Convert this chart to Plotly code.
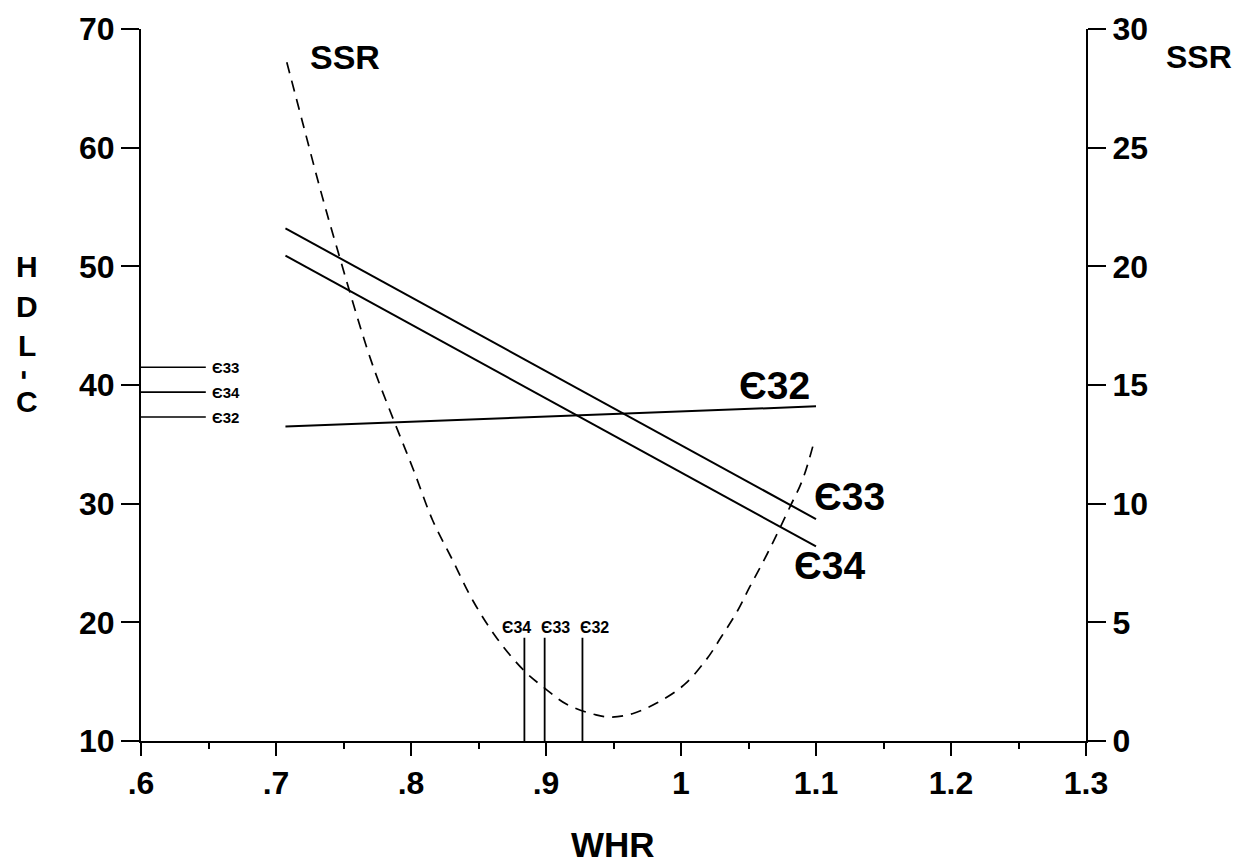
import plotly.graph_objects as go

# ---- data ----
# SSR curve (right axis) : WHR vs SSR
ssr_x = [0.708, 0.720, 0.733, 0.745, 0.770, 0.788, 0.802, 0.816, 0.831, 0.846,
         0.864, 0.884, 0.899, 0.915, 0.937, 0.949, 0.964, 0.982, 1.002, 1.019,
         1.030, 1.042, 1.051, 1.064, 1.081, 1.090, 1.099]
ssr_y = [28.6, 26.0, 23.2, 20.8, 16.1, 13.4, 11.4, 9.3, 7.6, 5.9,
         4.3, 2.95, 2.23, 1.56, 1.10, 1.01, 1.15, 1.6, 2.35, 3.45,
         4.4, 5.5, 6.5, 7.9, 9.9, 11.0, 12.7]

# regression lines (left axis): HDL-C vs WHR
line_x = [0.707, 1.10]
e33_y = [53.2, 28.7]
e34_y = [50.9, 26.4]
e32_y = [36.5, 38.2]

# mean HDL-C markers at left
mean_x = [0.600, 0.648]
mean_e33 = 41.5
mean_e34 = 39.4
mean_e32 = 37.3

# optimal WHR markers at bottom
opt_labels = ["Є34", "Є33", "Є32"]
opt_whr = [0.884, 0.899, 0.927]
opt_top = 18.7

x_ticks = [0.6, 0.7, 0.8, 0.9, 1.0, 1.1, 1.2, 1.3]
x_ticktext = [".6", ".7", ".8", ".9", "1", "1.1", "1.2", "1.3"]
y_ticks = [10, 20, 30, 40, 50, 60, 70]
y2_ticks = [0, 5, 10, 15, 20, 25, 30]

FONT = "Liberation Sans, Arial, sans-serif"
BLK = "black"

# page body has an 8px margin; plot area wanted at page px x 141..1086, y 29..741
OFF = 8
PL, PR, PT, PB = 141 - OFF, 1086 - OFF, 29 - OFF, 741 - OFF
W, H = 1244, 863

fig = go.Figure()

# SSR dashed curve
fig.add_trace(go.Scatter(x=ssr_x, y=ssr_y, mode="lines", yaxis="y2",
                         line=dict(color=BLK, width=1.7, dash="11px,8px", shape="spline"),
                         showlegend=False, hoverinfo="skip"))

for yy in (e33_y, e34_y, e32_y):
    fig.add_trace(go.Scatter(x=line_x, y=yy, mode="lines",
                             line=dict(color=BLK, width=2), showlegend=False))

for m in (mean_e33, mean_e34, mean_e32):
    fig.add_trace(go.Scatter(x=mean_x, y=[m, m], mode="lines",
                             line=dict(color=BLK, width=1.6), showlegend=False))

for w in opt_whr:
    fig.add_trace(go.Scatter(x=[w, w], y=[10, opt_top], mode="lines",
                             line=dict(color=BLK, width=1.8), showlegend=False))


def f(size, bold=True):
    d = dict(size=size, color=BLK, family=FONT)
    if bold:
        d["weight"] = "bold"
    return d


def A(**kw):
    kw.setdefault("showarrow", False)
    kw.setdefault("xanchor", "center")
    kw.setdefault("yanchor", "middle")
    return kw


ann = []
# big line labels
ann.append(A(x=1.0696, y=40.0, text="Є32", font=f(39)))
ann.append(A(x=1.125, y=30.6, text="Є33", font=f(39)))
ann.append(A(x=1.110, y=24.8, text="Є34", font=f(39)))
# small left labels
for t, yy in (("Є33", mean_e33), ("Є34", mean_e34), ("Є32", mean_e32)):
    ann.append(A(x=mean_x[1] + 0.003, y=yy, text=t, xanchor="left", font=f(15)))
# bottom labels
for t, w in zip(opt_labels, [0.8785, 0.9067, 0.9356]):
    ann.append(A(x=w, y=19.6, text=t, font=f(16)))
# SSR labels
ann.append(A(x=0.751, y=67.6, text="SSR", font=f(34)))
ann.append(A(x=(1199 - 141) / 945, y=67.6, xref="paper", text="SSR", font=f(32)))
# WHR title
ann.append(A(x=(613 - 141) / 945, y=(741 - 845) / 712, xref="paper", yref="paper", text="WHR",
             font=f(35)))
# HDL-C stacked
for ch, py, ang in (("H", 266, 0), ("D", 306, 0), ("L", 345, 0), ("-", 375, 90), ("C", 401, 0)):
    ann.append(A(x=(27 - 141) / 945, y=(741 - py) / 712, xref="paper", yref="paper",
                 text=ch, textangle=ang, font=f(30)))

fig.update_layout(
    width=W, height=H,
    margin=dict(l=PL, r=W - PR, t=PT, b=H - PB, autoexpand=False),
    paper_bgcolor="white", plot_bgcolor="white",
    font=dict(family=FONT, color=BLK),
    xaxis=dict(range=[0.6, 1.3], tickvals=x_ticks, ticktext=x_ticktext,
               showline=True, linecolor=BLK, linewidth=2, ticks="outside", ticklen=13,
               tickwidth=2, tickcolor=BLK, showgrid=False, zeroline=False,
               tickfont=f(32),
               minor=dict(dtick=0.05, ticks="outside", ticklen=6, tickwidth=2, tickcolor=BLK, showgrid=False)),
    yaxis=dict(range=[10, 70], tickvals=y_ticks, showline=True, linecolor=BLK, linewidth=2,
               ticks="outside", ticklen=18, tickwidth=2, tickcolor=BLK, showgrid=False,
               zeroline=False, tickfont=f(32)),
    yaxis2=dict(range=[0, 30], tickvals=y2_ticks, overlaying="y", side="right",
                showline=True, linecolor=BLK, linewidth=2, ticks="outside", ticklen=18,
                tickwidth=2, tickcolor=BLK, showgrid=False, zeroline=False,
                tickfont=f(32)),
    annotations=ann,
    showlegend=False,
)

fig.write_html("out.html")
